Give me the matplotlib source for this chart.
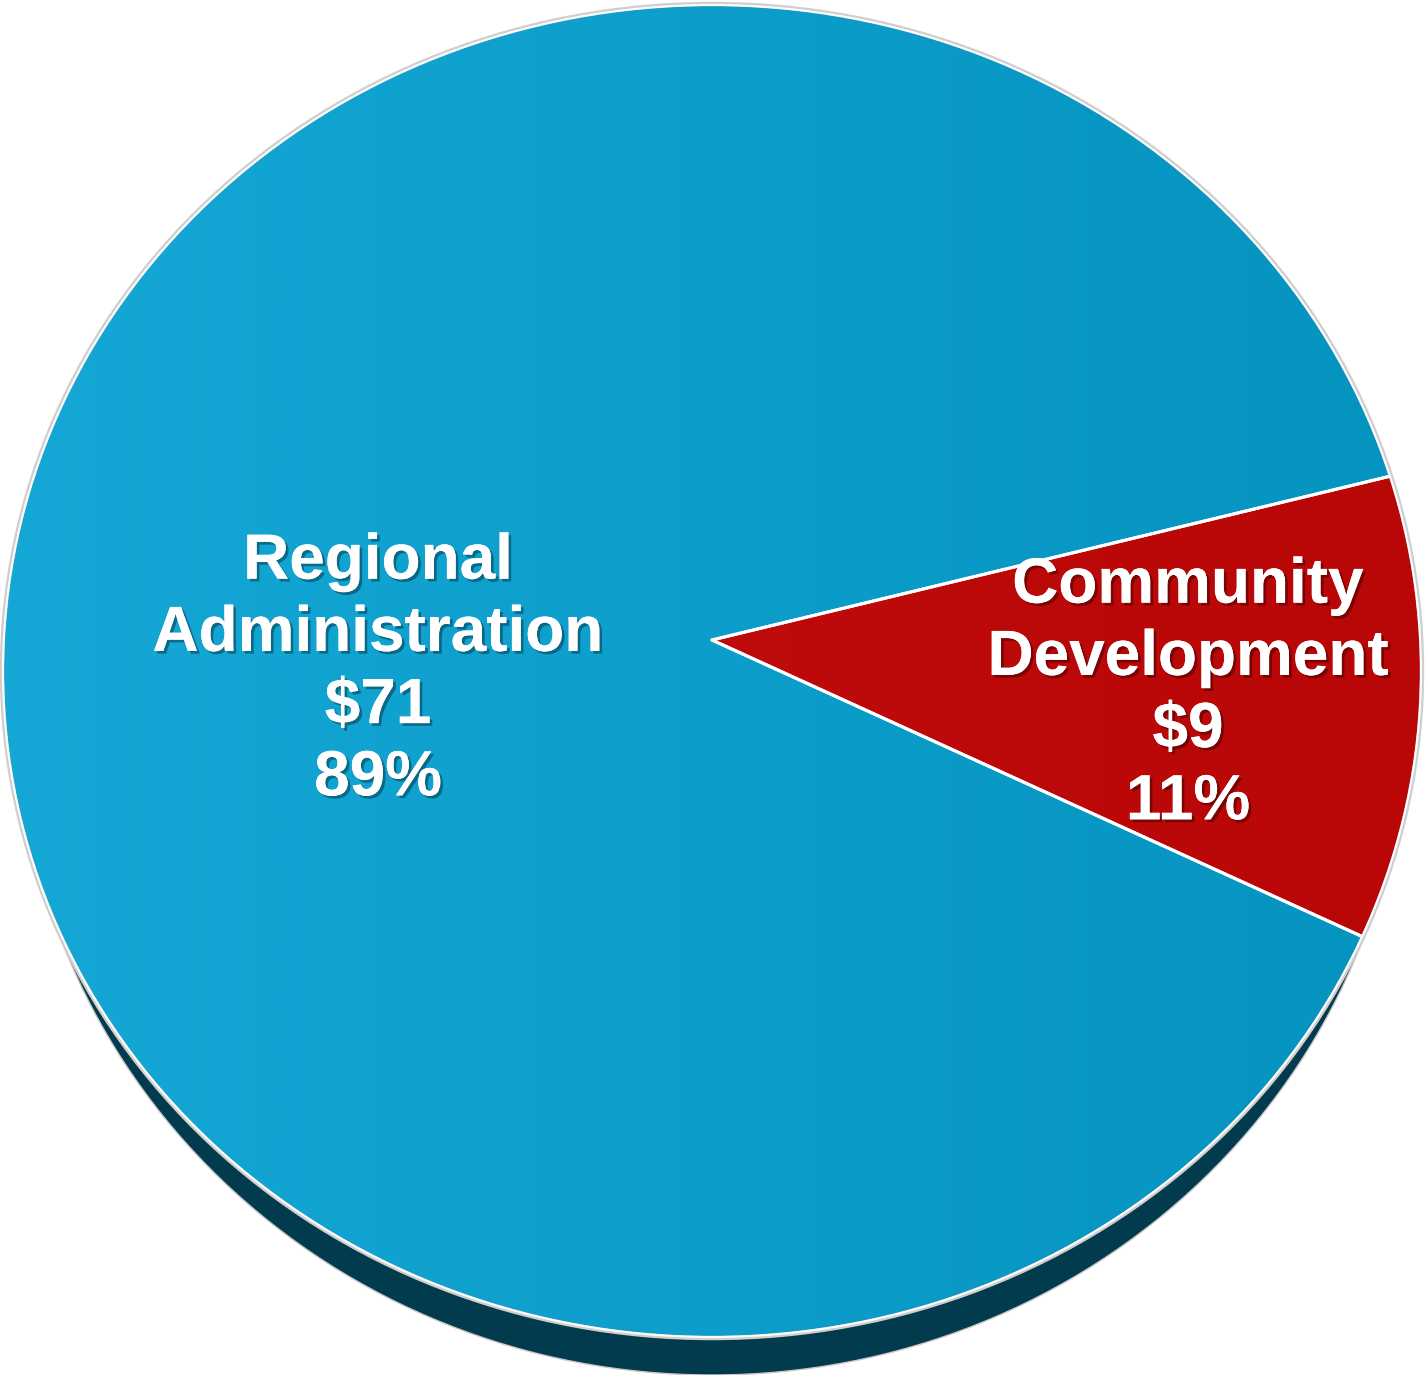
import numpy as np
import matplotlib.pyplot as plt
from matplotlib.patches import Polygon, Ellipse
from matplotlib.colors import LinearSegmentedColormap
import matplotlib.patheffects as pe

plt.rcParams["font.family"] = "Liberation Sans"

# spending by area
categories = ["Regional\nAdministration", "Community\nDevelopment"]
amounts = [71, 9]
colours_left = ["#15a8d6", "#c30f0f"]
colours_right = ["#0593bf", "#b90606"]
label_pos = [(378, 670), (1188, 694)]

# pie geometry in pixel units
cx, cy = 712, 671        # centre of the top face ellipse
rx, ry = 710, 667
apex = (712, 640)        # where the slices meet
depth = 37
side_rx = 694
start_angle = -23.5      # lower edge of the small slice, degrees


def wedge_vertices(t0, t1, n=400):
    t = np.radians(np.linspace(t0, t1, n))
    xs = cx + rx * np.cos(t)
    ys = cy - ry * np.sin(t)
    return np.vstack([[apex], np.column_stack([xs, ys]), [apex]])


def gradient_fill(ax, patch, c0, c1, zorder):
    cmap = LinearSegmentedColormap.from_list("g", [c0, c1])
    grad = np.linspace(0, 1, 256).reshape(1, -1)
    im = ax.imshow(grad, cmap=cmap, extent=(cx - rx, cx + rx, cy + ry, cy - ry),
                   aspect="auto", zorder=zorder, interpolation="bilinear")
    im.set_clip_path(patch)


fig = plt.figure(figsize=(14.25, 13.75), dpi=100)
ax = fig.add_axes([0, 0, 1, 1])
ax.set_xlim(0, 1425)
ax.set_ylim(1375, 0)
ax.axis("off")

# side wall of the disc
side = Ellipse((cx, cy + depth), 2 * side_rx, 2 * ry, facecolor="#023b4e",
               edgecolor="#c8c8c8", linewidth=1.0, zorder=1)
ax.add_patch(side)

total = sum(amounts)
fracs = [a / total for a in amounts]
t = start_angle
# counter-clockwise from the lower edge of the small slice
for i in reversed(range(len(amounts))):
    sweep = 360 * fracs[i]
    verts = wedge_vertices(t, t + sweep)
    t += sweep
    base = Polygon(verts, closed=True, facecolor=colours_left[i],
                   edgecolor="none", zorder=2)
    ax.add_patch(base)
    gradient_fill(ax, base, colours_left[i], colours_right[i], 3)
    ax.add_patch(Polygon(verts, closed=True, facecolor="none",
                         edgecolor="white", linewidth=2.2,
                         joinstyle="round", zorder=4))

# rim outline
ax.add_patch(Ellipse((cx, cy), 2 * rx, 2 * ry, facecolor="none",
                     edgecolor="#cfcfcf", linewidth=3.2, zorder=4))
ax.add_patch(Ellipse((cx, cy), 2 * rx - 2, 2 * ry - 2, facecolor="none",
                     edgecolor="white", linewidth=1.4, zorder=5))

shadow = [pe.withSimplePatchShadow(offset=(2, -2), shadow_rgbFace="black",
                                   alpha=0.35), pe.Normal()]
for i in range(len(amounts)):
    txt = "%s\n$%d\n%d%%" % (categories[i], amounts[i], round(fracs[i] * 100))
    ax.text(label_pos[i][0], label_pos[i][1], txt, ha="center", va="center",
            multialignment="center", fontsize=46, fontweight="bold",
            color="white", linespacing=1.26, zorder=6, path_effects=shadow)

fig.savefig("out.png", dpi=100, facecolor="white")
